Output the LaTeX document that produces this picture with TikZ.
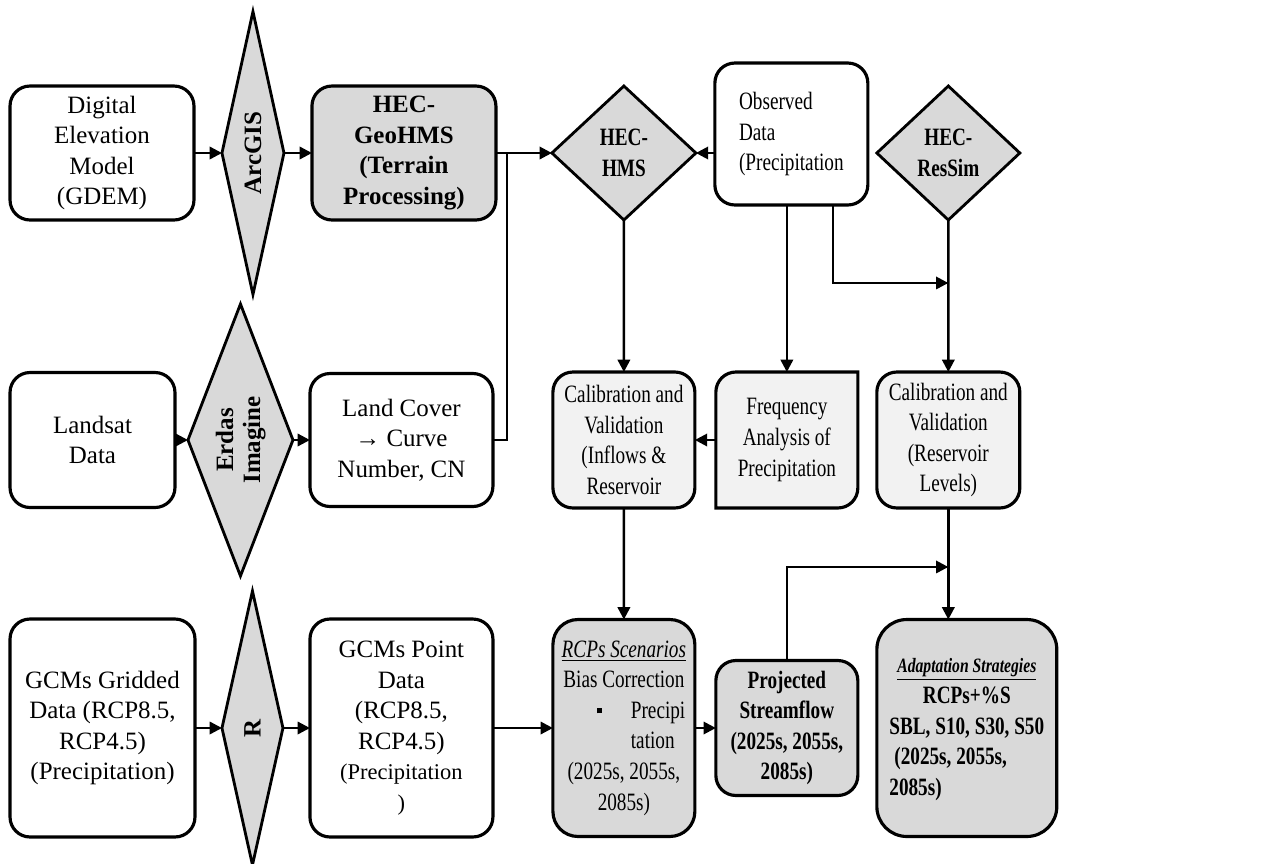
\documentclass[tikz,border=0pt]{standalone}
\usepackage{fontspec}
\setmainfont{Liberation Serif}
\newfontfamily\narrowfont[FakeStretch=0.77]{Liberation Serif}
\usepackage{graphicx}
\usetikzlibrary{arrows.meta, positioning, shapes.geometric, backgrounds}
\definecolor{hecgray}{HTML}{D9D9D9}
\definecolor{hecpale}{HTML}{F2F2F2}
\newcommand{\boxfont}{\fontsize{14.2pt}{17.4pt}\selectfont}

\begin{document}
\begin{tikzpicture}[
    x=0.02cm, y=-0.02cm,
    font=\boxfont,
    box/.style={draw, line width=1.8pt, rounded corners=0.4cm, align=center, inner sep=1pt, outer sep=0pt},
    slim/.style={box, font=\boxfont\narrowfont},
    kite/.style={draw, line width=1.6pt, fill=hecgray, diamond, align=center,
                 inner sep=0pt, outer sep=0pt, font=\boxfont\bfseries},
    arr/.style={-{Triangle[length=7pt, width=7pt]}, line width=1.4pt},
    link/.style={line width=1.4pt},
  ]
  \useasboundingbox (0,0) rectangle (1262,863);
  % top row
  \node[box, minimum width=3.68cm, minimum height=2.68cm] (dem) at (102,153) {Digital\\Elevation\\Model\\(GDEM)};
  \node[kite, shape aspect=0.22, minimum width=1.24cm, minimum height=5.66cm, right=0.56cm of dem] (arcgis)
        {\rotatebox{90}{ArcGIS}};
  \node[box, fill=hecgray, font=\boxfont\bfseries, minimum width=3.68cm, minimum height=2.68cm,
        right=0.56cm of arcgis] (geohms) {HEC-\\GeoHMS\\(Terrain\\Processing)};
  \node[kite, shape aspect=1.07, font=\boxfont\narrowfont\bfseries, minimum width=2.88cm, minimum height=2.68cm,
        right=1.12cm of geohms] (hms) {HEC-\\HMS};
  \node[slim, align=left, minimum width=3.06cm, minimum height=2.84cm,
        right=0.38cm of hms, yshift=0.38cm] (obs) {Observed\\Data\\(Precipitation};
  \node[kite, shape aspect=1.07, font=\boxfont\narrowfont\bfseries, minimum width=2.86cm, minimum height=2.68cm,
        right=0.18cm of obs, yshift=-0.38cm] (ressim) {HEC-\\ResSim};
  % middle row
  \node[box, minimum width=3.3cm, minimum height=2.7cm] (landsat) at (92.5,440) {Landsat\\Data};
  \node[kite, shape aspect=0.39, minimum width=2.1cm, minimum height=5.44cm, right=0.26cm of landsat] (erdas)
        {\rotatebox{90}{\begin{tabular}{@{}c@{}}Erdas\\[-2pt]Imagine\end{tabular}}};
  \node[box, minimum width=3.66cm, minimum height=2.66cm, right=0.34cm of erdas] (cover) {Land Cover\\→ Curve\\Number, CN};
  \node[slim, fill=hecpale, minimum width=2.84cm, minimum height=2.72cm, right=1.2cm of cover] (calin)
        {Calibration and\\Validation\\(Inflows \&\\Reservoir};
  \node[slim, draw=none, minimum width=2.84cm, minimum height=2.72cm, right=0.42cm of calin] (freq)
        {Frequency\\Analysis of\\Precipitation};
  \node[slim, fill=hecpale, minimum width=2.86cm, minimum height=2.72cm, right=0.38cm of freq] (calres)
        {Calibration and\\Validation\\(Reservoir\\Levels)};
  % bottom row
  \node[box, minimum width=3.7cm, minimum height=4.36cm] (gcm) at (102.5,728)
        {GCMs Gridded\\Data (RCP8.5,\\RCP4.5)\\ (Precipitation)};
  \node[kite, shape aspect=0.22, minimum width=1.22cm, minimum height=5.48cm, right=0.54cm of gcm] (rtool)
        {\rotatebox{90}{R}};
  \node[box, minimum width=3.66cm, minimum height=4.36cm, right=0.54cm of rtool] (point)
        {GCMs Point\\Data\\(RCP8.5,\\RCP4.5)\\{\fontsize{12.8pt}{17.4pt}\selectfont(Precipitation}\\{\fontsize{12.8pt}{17.4pt}\selectfont)}};
  \node[slim, fill=hecgray, rounded corners=0.5cm, minimum width=2.84cm, minimum height=4.34cm,
        right=1.2cm of point] (rcp)
        {\underline{\textit{RCPs Scenarios}}\\Bias Correction\\
         \makebox[2.42cm][l]{\hspace{0.68cm}\raisebox{0.1cm}{\rule{0.1cm}{0.1cm}}\hspace{0.57cm}Precipi}\\
         \makebox[2.42cm][l]{\hspace{1.35cm}tation}\\(2025s, 2055s,\\2085s)};
  \node[slim, fill=hecgray, font=\boxfont\narrowfont\bfseries, minimum width=2.84cm, minimum height=2.7cm,
        right=0.42cm of rcp] (proj) {Projected\\Streamflow\\(2025s, 2055s,\\2085s)};
  \node[slim, fill=hecgray, font=\boxfont\narrowfont\bfseries, rounded corners=0.6cm,
        minimum width=3.6cm, minimum height=4.34cm, right=0.38cm of proj] (adapt)
        {\begin{tabular}{@{}l@{}}
         \multicolumn{1}{@{}c@{}}{\fontsize{11.6pt}{17.4pt}\selectfont\underline{\textit{Adaptation Strategies}}}\\
         \multicolumn{1}{@{}c@{}}{RCPs+\%S}\\
         SBL, S10, S30, S50\\
         \hspace{0.1cm}(2025s, 2055s,\\
         2085s)
         \end{tabular}};
  % frequency box frame with two sharp corners
  \begin{scope}[on background layer]
    \draw[line width=1.8pt, fill=hecpale] (freq.south west) -- ([yshift=-0.4cm]freq.north west)
      arc[start angle=180, end angle=90, radius=0.4cm] -- (freq.north east)
      -- ([yshift=0.4cm]freq.south east) arc[start angle=0, end angle=-90, radius=0.4cm] -- cycle;
  \end{scope}
  % joints
  \coordinate (join) at (507,153);
  \path (ressim.south) ++(0,-1.26cm) coordinate (toressim);
  \path (calres.south) ++(0,-1.18cm) coordinate (toadapt);
  % connectors
  \draw[arr] (dem.east) -- (arcgis.west);
  \draw[arr] (arcgis.east) -- (geohms.west);
  \draw[arr] (geohms.east) -- (hms.west);
  \draw[link] (cover.east) -| (join);
  \draw[arr] (obs.west |- hms.east) -- (hms.east);
  \draw[arr] (hms.south) -- (calin.north);
  \draw[arr] (freq.north |- obs.south) -- (freq.north);
  \draw[arr] ([xshift=0.83cm]obs.south) |- (toressim);
  \draw[arr] (ressim.south) -- (calres.north);
  \draw[arr] (landsat.east) -- (erdas.west);
  \draw[arr] (erdas.east) -- (cover.west);
  \draw[arr] (freq.west) -- (calin.east);
  \draw[arr] (gcm.east) -- (rtool.west);
  \draw[arr] (rtool.east) -- (point.west);
  \draw[arr] (point.east) -- (rcp.west);
  \draw[arr] (calin.south) -- (rcp.north);
  \draw[arr] (rcp.east) -- (proj.west);
  \draw[arr] (proj.north) |- (toadapt);
  \draw[arr] (calres.south) -- (calres.south |- adapt.north);
\end{tikzpicture}
\end{document}
